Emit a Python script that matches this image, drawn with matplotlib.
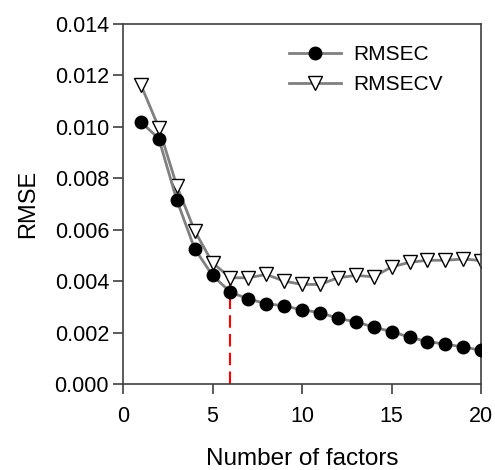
import numpy as np
import matplotlib
matplotlib.use('Agg')
import matplotlib.pyplot as plt

plt.rcParams['font.family'] = ['Liberation Sans', 'DejaVu Sans']

# data
factors = list(range(1, 21))
rmsec = [0.01019, 0.00954, 0.00716, 0.00526, 0.00422, 0.00357, 0.00331, 0.00312,
         0.00304, 0.00288, 0.00278, 0.00255, 0.00242, 0.00221, 0.00204, 0.00182,
         0.00165, 0.00155, 0.00144, 0.00131]
rmsecv = [0.01163, 0.00997, 0.00771, 0.00596, 0.00471, 0.00413, 0.00413, 0.00426,
          0.00400, 0.00387, 0.00387, 0.00413, 0.00422, 0.00417, 0.00455, 0.00473,
          0.00481, 0.00481, 0.00486, 0.00480]
opt_factor = 6
opt_top = 0.0043
xticks = [0, 5, 10, 15, 20]
yticks = [0.000, 0.002, 0.004, 0.006, 0.008, 0.010, 0.012, 0.014]

fig = plt.figure(figsize=(4.95, 4.7), dpi=100)
ax = fig.add_axes([0.2485, 0.183, 0.7235, 0.766])

ax.plot([opt_factor, opt_factor], [0, opt_top], color='red', ls=(0, (6, 3)),
        lw=1.5, zorder=1)
ax.plot(factors, rmsec, color='#808080', lw=2, marker='o', ms=9,
        mfc='black', mec='black', label='RMSEC', zorder=3)
ax.plot(factors, rmsecv, color='#808080', lw=2, marker='v', ms=9.5,
        mfc='white', mec='black', mew=1, label='RMSECV', zorder=2)

ax.set_xlim(0, 20)
ax.set_ylim(0, 0.014)
ax.set_xticks(xticks)
ax.set_yticks(yticks)
ax.set_yticklabels([f'{v:.3f}' for v in yticks])
ax.tick_params(direction='out', length=7, width=1.2, labelsize=15.5,
               color='#404040', pad=3)
ax.tick_params(axis='x', pad=9)
for s in ax.spines.values():
    s.set_color('#404040')
    s.set_linewidth(1.2)

ax.set_xlabel('Number of factors', fontsize=17.5, labelpad=15)
ax.set_ylabel('RMSE', fontsize=17, labelpad=11)

ax.legend(loc='upper right', frameon=False, fontsize=15, handlelength=2.5,
          borderaxespad=0.6, labelspacing=0.55, handletextpad=0.55,
          bbox_to_anchor=(0.95, 1.0))

fig.savefig('out.png', dpi=100)
